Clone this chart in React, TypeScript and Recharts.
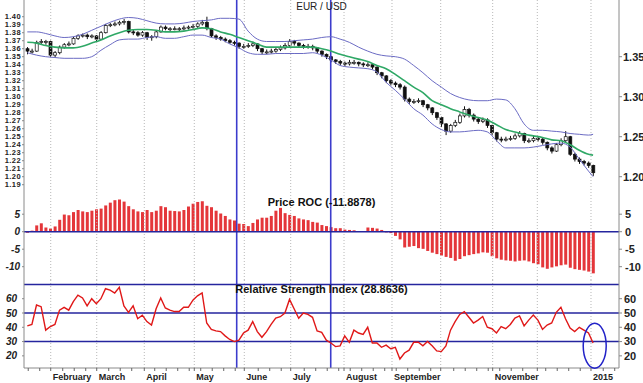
import React from "react";
import { ComposedChart, Bar, Line, XAxis, YAxis, ReferenceLine, ReferenceDot } from "recharts";

// one candle = two trading days, mid-Jan 2014 .. end of Dec 2014
const opens = [
  1.360, 1.357, 1.357, 1.368, 1.369, 1.369, 1.352, 1.355, 1.362, 1.365,
  1.366, 1.373, 1.376, 1.377, 1.375, 1.376, 1.372, 1.380, 1.389, 1.390,
  1.391, 1.393, 1.394, 1.381, 1.380, 1.377, 1.380, 1.374, 1.375, 1.381,
  1.387, 1.385, 1.385, 1.385, 1.385, 1.386, 1.387, 1.388, 1.391, 1.393,
  1.385, 1.376, 1.374, 1.372, 1.370, 1.368, 1.367, 1.363, 1.363, 1.364,
  1.366, 1.360, 1.356, 1.356, 1.357, 1.359, 1.361, 1.364, 1.369, 1.367,
  1.364, 1.363, 1.363, 1.361, 1.357, 1.353, 1.350, 1.346, 1.344, 1.342,
  1.341, 1.343, 1.343, 1.341, 1.340, 1.340, 1.337, 1.330, 1.326, 1.320,
  1.317, 1.315, 1.312, 1.297, 1.294, 1.294, 1.295, 1.290, 1.286, 1.280,
  1.274, 1.266, 1.257, 1.264, 1.268, 1.276, 1.284, 1.277, 1.272, 1.269,
  1.271, 1.264, 1.255, 1.247, 1.246, 1.247, 1.248, 1.251, 1.254, 1.245,
  1.245, 1.248, 1.247, 1.243, 1.236, 1.232, 1.240, 1.245, 1.250, 1.228,
  1.222, 1.219, 1.217, 1.214,
];
const highs = [
  1.362, 1.360, 1.370, 1.372, 1.371, 1.370, 1.357, 1.364, 1.367, 1.369,
  1.375, 1.378, 1.379, 1.379, 1.378, 1.377, 1.382, 1.391, 1.392, 1.394,
  1.395, 1.397, 1.395, 1.384, 1.382, 1.382, 1.381, 1.377, 1.383, 1.389,
  1.389, 1.387, 1.388, 1.387, 1.389, 1.389, 1.391, 1.393, 1.396, 1.400,
  1.386, 1.378, 1.376, 1.374, 1.372, 1.370, 1.368, 1.366, 1.367, 1.369,
  1.367, 1.361, 1.359, 1.360, 1.362, 1.364, 1.367, 1.372, 1.371, 1.368,
  1.366, 1.366, 1.365, 1.362, 1.358, 1.354, 1.351, 1.347, 1.346, 1.344,
  1.346, 1.346, 1.344, 1.343, 1.343, 1.342, 1.338, 1.331, 1.327, 1.322,
  1.319, 1.317, 1.314, 1.299, 1.297, 1.298, 1.296, 1.291, 1.287, 1.281,
  1.275, 1.267, 1.266, 1.271, 1.279, 1.288, 1.286, 1.279, 1.274, 1.274,
  1.273, 1.265, 1.256, 1.250, 1.250, 1.251, 1.254, 1.257, 1.255, 1.248,
  1.251, 1.250, 1.249, 1.244, 1.238, 1.242, 1.248, 1.257, 1.251, 1.230,
  1.224, 1.221, 1.219, 1.215,
];
const lows = [
  1.353, 1.354, 1.356, 1.366, 1.365, 1.350, 1.349, 1.353, 1.360, 1.363,
  1.365, 1.371, 1.374, 1.372, 1.373, 1.369, 1.371, 1.379, 1.387, 1.388,
  1.389, 1.390, 1.379, 1.377, 1.375, 1.375, 1.371, 1.370, 1.373, 1.380,
  1.383, 1.382, 1.383, 1.382, 1.383, 1.384, 1.385, 1.386, 1.389, 1.383,
  1.374, 1.371, 1.370, 1.368, 1.366, 1.364, 1.360, 1.360, 1.361, 1.362,
  1.357, 1.353, 1.353, 1.354, 1.355, 1.357, 1.359, 1.362, 1.364, 1.361,
  1.360, 1.360, 1.358, 1.354, 1.350, 1.347, 1.343, 1.341, 1.339, 1.338,
  1.339, 1.340, 1.338, 1.337, 1.337, 1.334, 1.327, 1.323, 1.317, 1.314,
  1.312, 1.309, 1.294, 1.291, 1.291, 1.292, 1.287, 1.283, 1.277, 1.271,
  1.262, 1.252, 1.255, 1.262, 1.266, 1.274, 1.274, 1.269, 1.266, 1.267,
  1.261, 1.252, 1.244, 1.243, 1.244, 1.245, 1.246, 1.249, 1.242, 1.242,
  1.243, 1.244, 1.240, 1.233, 1.229, 1.231, 1.238, 1.243, 1.226, 1.219,
  1.216, 1.214, 1.211, 1.201,
];
const closes = [
  1.357, 1.357, 1.368, 1.369, 1.369, 1.352, 1.355, 1.362, 1.365, 1.366,
  1.373, 1.376, 1.377, 1.375, 1.376, 1.372, 1.380, 1.389, 1.390, 1.391,
  1.393, 1.394, 1.381, 1.380, 1.377, 1.380, 1.374, 1.375, 1.381, 1.387,
  1.385, 1.385, 1.385, 1.385, 1.386, 1.387, 1.388, 1.391, 1.393, 1.385,
  1.376, 1.374, 1.372, 1.370, 1.368, 1.367, 1.363, 1.363, 1.364, 1.366,
  1.360, 1.356, 1.356, 1.357, 1.359, 1.361, 1.364, 1.369, 1.367, 1.364,
  1.363, 1.363, 1.361, 1.357, 1.353, 1.350, 1.346, 1.344, 1.342, 1.341,
  1.343, 1.343, 1.341, 1.340, 1.340, 1.337, 1.330, 1.326, 1.320, 1.317,
  1.315, 1.312, 1.297, 1.294, 1.294, 1.295, 1.290, 1.286, 1.280, 1.274,
  1.266, 1.257, 1.264, 1.268, 1.276, 1.284, 1.277, 1.272, 1.269, 1.271,
  1.264, 1.255, 1.247, 1.246, 1.247, 1.248, 1.251, 1.254, 1.245, 1.245,
  1.248, 1.247, 1.243, 1.236, 1.232, 1.240, 1.245, 1.250, 1.228, 1.222,
  1.219, 1.217, 1.214, 1.205,
];

// bollinger bands, read every 2nd candle (plus the last one)
const bandUpper = [
  1.381, 1.381, 1.379, 1.376, 1.374, 1.375, 1.378, 1.383, 1.388, 1.393,
  1.397, 1.399, 1.398, 1.395, 1.392, 1.391, 1.391, 1.392, 1.394, 1.395,
  1.396, 1.398, 1.398, 1.397, 1.382, 1.372, 1.369, 1.369, 1.369, 1.370,
  1.371, 1.372, 1.374, 1.375, 1.372, 1.368, 1.362, 1.357, 1.353, 1.351,
  1.350, 1.347, 1.339, 1.330, 1.320, 1.312, 1.304, 1.299, 1.296, 1.295,
  1.295, 1.297, 1.296, 1.285, 1.266, 1.258, 1.258, 1.257, 1.256, 1.254,
  1.253, 1.252, 1.253,
];
const bandMid = [
  1.368, 1.367, 1.364, 1.362, 1.361, 1.361, 1.363, 1.367, 1.371, 1.376,
  1.380, 1.383, 1.384, 1.384, 1.383, 1.381, 1.381, 1.382, 1.384, 1.386,
  1.385, 1.381, 1.378, 1.374, 1.370, 1.366, 1.362, 1.362, 1.362, 1.362,
  1.362, 1.362, 1.360, 1.357, 1.353, 1.350, 1.347, 1.344, 1.339, 1.335,
  1.328, 1.320, 1.312, 1.305, 1.295, 1.290, 1.285, 1.281, 1.277, 1.274,
  1.271, 1.265, 1.259, 1.256, 1.253, 1.251, 1.249, 1.246, 1.245, 1.240,
  1.233, 1.228, 1.227,
];
const bandLower = [
  1.355, 1.352, 1.350, 1.349, 1.348, 1.348, 1.348, 1.350, 1.358, 1.365,
  1.371, 1.372, 1.372, 1.374, 1.375, 1.373, 1.373, 1.375, 1.377, 1.377,
  1.374, 1.372, 1.366, 1.361, 1.355, 1.353, 1.353, 1.354, 1.354, 1.354,
  1.354, 1.355, 1.352, 1.346, 1.339, 1.337, 1.336, 1.335, 1.331, 1.318,
  1.308, 1.297, 1.285, 1.277, 1.266, 1.259, 1.256, 1.256, 1.257, 1.258,
  1.256, 1.245, 1.236, 1.236, 1.236, 1.237, 1.239, 1.241, 1.242, 1.237,
  1.222, 1.207, 1.200,
];

const roc = [
  -0.3, 0.3, 1.8, 2.4, 1.2, 0.9, 1.5, 3.4, 4.9, 4.7,
  5.6, 6.2, 5.8, 5.6, 6.0, 6.4, 6.6, 7.5, 8.3, 9.0,
  9.2, 8.6, 7.3, 6.4, 5.8, 5.6, 6.2, 5.6, 6.0, 7.3,
  7.0, 6.0, 5.9, 5.8, 6.2, 7.2, 8.0, 8.5, 8.7, 7.4,
  7.0, 6.0, 5.2, 4.5, 3.5, 3.2, 2.3, 2.2, 1.6, 2.5,
  3.5, 4.0, 4.0, 4.5, 6.0, 6.8, 5.3, 4.8, 4.5, 3.8,
  3.5, 3.3, 2.8, 2.6, 1.9, 1.6, 1.3, 1.0, 1.0, 0.6,
  0.5, 0.4, 0.2, 0.2, 1.2, 1.1, 0.9, 0.5, -0.2, -0.4,
  -1.2, -2.2, -4.5, -4.3, -4.1, -4.7, -4.9, -5.5, -6.0, -6.4,
  -6.8, -7.2, -7.5, -8.3, -7.8, -7.0, -6.7, -6.4, -6.2, -5.9,
  -6.0, -7.0, -7.6, -8.0, -8.2, -8.3, -8.5, -8.3, -8.2, -8.5,
  -9.0, -9.3, -10.2, -10.6, -10.2, -9.9, -9.6, -9.4, -10.3, -10.7,
  -10.9, -11.1, -11.4, -11.9,
];

const rsi = [
  41, 42, 55.6, 54.4, 38, 40.5, 42, 52, 54, 52,
  58, 62.5, 60.5, 55, 60, 56.5, 60, 67, 66, 64,
  68, 55, 50.5, 55, 46, 48.5, 44, 41.6, 53, 60.5,
  53.5, 52, 51, 51, 54, 54, 59, 62, 64, 43,
  38.5, 37.5, 37, 34, 31.5, 30, 31, 36, 38, 44,
  37, 33, 37, 42, 46.5, 47.4, 50, 59.5, 53, 46.3,
  50, 49, 47, 37.5, 36.5, 31, 29, 26.5, 27, 34,
  29.5, 38, 36, 35, 40, 29, 29, 26, 27.5, 25,
  26, 17.8, 22, 24, 29.5, 29.5, 27, 30, 27, 23.5,
  23, 27, 38, 44, 49, 51, 47, 43, 45, 47.5,
  40, 39, 36, 40.5, 39, 42, 46.5, 48, 41, 45,
  48.5, 45, 38.5, 41.6, 43, 50.5, 54, 46, 39.5, 37,
  40, 38, 36, 29,
];

// month starts, in candle units
const monthTicks = [5.09, 15.09, 25.43, 36.3, 47.17, 57.26, 68.85, 79.28, 89.87, 101.17, 110.87, 122.54];
const monthLabels = ["February", "March", "April", "May", "June", "July", "August", "September", "", "November", "", "2015"];
const markers = [45.52, 65.96];

const priceTicksLeft = [1.19, 1.2, 1.21, 1.22, 1.23, 1.24, 1.25, 1.26, 1.27, 1.28, 1.29, 1.3, 1.31, 1.32, 1.33, 1.34, 1.35, 1.36, 1.37, 1.38, 1.39, 1.4];
const priceTicksRight = [1.2, 1.25, 1.3, 1.35];
const rocTicks = [5, 0, -5, -10];
const rsiTicks = [60, 50, 40, 30, 20];
const rsiLevels = [70, 50, 30];

const bandAt = Array.from({ length: 62 }, (_, j) => j * 2).concat(123);

const rows = closes.map((c, k) => {
  const j = bandAt.indexOf(k);
  return {
    k,
    open: opens[k],
    high: highs[k],
    low: lows[k],
    close: c,
    roc: roc[k],
    rsi: rsi[k],
    upper: j >= 0 ? bandUpper[j] : null,
    mid: j >= 0 ? bandMid[j] : null,
    lower: j >= 0 ? bandLower[j] : null,
  };
});

const weekTicks: number[] = [];
for (let t = 0.2; t < 128; t += 2.5) {
  if (monthTicks.every((m) => Math.abs(m - t) > 0.9)) weekTicks.push(t);
}
const xTicks = [...weekTicks, ...monthTicks].sort((a, b) => a - b);

const FONT = "Arial, 'Liberation Sans', Helvetica, sans-serif";
const W = 643;
const X_DOMAIN: [number, number] = [-0.72, 128.63];
const GRID = "#b8b8b8";
const MARK = "#3c3ccc";
const NAVY = "#25259e";
const AXIS = "#8a8a8a";

const Candle = (props: any) => {
  const { x, y, width, height, payload } = props;
  if (x == null || !payload) return null;
  const top = height < 0 ? y + height : y;
  const h = Math.abs(height);
  const cx = x + width / 2;
  const span = payload.high - payload.low || 0.0001;
  const ppu = h / span;
  const bTop = top + (payload.high - Math.max(payload.open, payload.close)) * ppu;
  const bBot = top + (payload.high - Math.min(payload.open, payload.close)) * ppu;
  const up = payload.close >= payload.open;
  return (
    <g>
      <line x1={cx} x2={cx} y1={top} y2={top + h} stroke="#111" strokeWidth={1} />
      <rect x={cx - 1.5} y={bTop} width={3} height={Math.max(bBot - bTop, 1)} fill={up ? "#fff" : "#111"} stroke="#111" strokeWidth={0.7} />
    </g>
  );
};

const MonthTick = (props: any) => {
  const { x, y, payload } = props;
  const i = monthTicks.indexOf(payload.value);
  if (i < 0 || !monthLabels[i]) return <g />;
  return (
    <text x={x + 2} y={y} dy={8} textAnchor="start" fontSize={9} fontWeight="bold" fill="#222" fontFamily={FONT}>
      {monthLabels[i]}
    </text>
  );
};

const leftTick = (size: number, italic = false) => ({
  fontSize: size,
  fill: "#222",
  fontFamily: FONT,
  fontWeight: "bold" as const,
  fontStyle: italic ? "italic" : "normal",
});
const rightTick = { fontSize: 11, fill: "#222", fontFamily: FONT, fontWeight: "bold" as const };

function gridLines() {
  return [
    ...monthTicks.map((m) => (
      <ReferenceLine key={"m" + m} x={m} yAxisId="l" stroke={GRID} strokeDasharray="1 2" />
    )),
    ...markers.map((m) => <ReferenceLine key={"v" + m} x={m} yAxisId="l" stroke={MARK} strokeWidth={1.6} />),
  ];
}

export default function App() {
  const margin = { top: 0, right: 0, bottom: 0, left: 0 };
  return (
    <div style={{ position: "absolute", left: 0, top: 0, width: W, height: 383, background: "#fff", fontFamily: FONT }}>
      <div style={{ position: "absolute", left: 0, top: 0 }}>
        <ComposedChart width={W} height={196} data={rows} margin={margin}>
          <XAxis type="number" dataKey="k" domain={X_DOMAIN} allowDataOverflow hide />
          <YAxis
            yAxisId="l"
            orientation="left"
            width={24}
            domain={[1.17588, 1.42088]}
            allowDataOverflow
            ticks={priceTicksLeft}
            interval={0}
            tick={{ ...leftTick(7.5), letterSpacing: 0.4 }}
            tickSize={2}
            tickMargin={1}
            axisLine={{ stroke: AXIS }}
            tickLine={{ stroke: AXIS }}
            tickFormatter={(v: number) => v.toFixed(2)}
          />
          <YAxis
            yAxisId="r"
            orientation="right"
            width={24}
            domain={[1.17588, 1.42088]}
            allowDataOverflow
            ticks={priceTicksRight}
            interval={0}
            tick={rightTick}
            tickSize={3}
            tickMargin={1}
            axisLine={{ stroke: AXIS }}
            tickLine={{ stroke: AXIS }}
            tickFormatter={(v: number) => v.toFixed(2)}
          />
          {gridLines()}
          <Line yAxisId="l" dataKey="upper" type="monotone" stroke="#6b6bc4" strokeWidth={1} dot={false} connectNulls isAnimationActive={false} />
          <Line yAxisId="l" dataKey="lower" type="monotone" stroke="#6b6bc4" strokeWidth={1} dot={false} connectNulls isAnimationActive={false} />
          <Line yAxisId="l" dataKey="mid" type="monotone" stroke="#2fa866" strokeWidth={1.6} dot={false} connectNulls isAnimationActive={false} />
          <Bar yAxisId="l" dataKey={(d: any) => [d.low, d.high]} barSize={3} shape={<Candle />} isAnimationActive={false} />
        </ComposedChart>
      </div>

      <div style={{ position: "absolute", left: 0, top: 196 }}>
        <ComposedChart width={W} height={84} data={rows} margin={margin}>
          <XAxis type="number" dataKey="k" domain={X_DOMAIN} allowDataOverflow height={0} tick={false} tickLine={false} axisLine={{ stroke: "#999" }} />
          <YAxis
            yAxisId="l"
            orientation="left"
            width={24}
            domain={[-13.8, 10.2]}
            allowDataOverflow
            ticks={rocTicks}
            interval={0}
            tick={leftTick(10, true)}
            tickSize={2}
            tickMargin={2}
            axisLine={{ stroke: AXIS }}
            tickLine={{ stroke: AXIS }}
          />
          <YAxis
            yAxisId="r"
            orientation="right"
            width={24}
            domain={[-13.8, 10.2]}
            allowDataOverflow
            ticks={rocTicks}
            interval={0}
            tick={rightTick}
            tickSize={3}
            tickMargin={3}
            axisLine={{ stroke: AXIS }}
            tickLine={{ stroke: AXIS }}
          />
          {gridLines()}
          <Bar yAxisId="l" dataKey="roc" barSize={3} fill="#e4363a" isAnimationActive={false} />
          <ReferenceLine y={0} yAxisId="l" stroke={NAVY} strokeWidth={1.4} />
        </ComposedChart>
      </div>

      <div style={{ position: "absolute", left: 0, top: 280 }}>
        <ComposedChart width={W} height={103} data={rows} margin={margin}>
          <XAxis
            type="number"
            dataKey="k"
            domain={X_DOMAIN}
            allowDataOverflow
            height={15}
            ticks={xTicks}
            interval={0}
            tick={<MonthTick />}
            tickSize={3}
            tickMargin={1}
            axisLine={{ stroke: AXIS }}
            tickLine={{ stroke: "#666" }}
          />
          <YAxis
            yAxisId="l"
            orientation="left"
            width={24}
            domain={[11.5, 73.1]}
            allowDataOverflow
            ticks={rsiTicks}
            interval={0}
            tick={leftTick(10, true)}
            tickSize={2}
            tickMargin={5}
            axisLine={{ stroke: AXIS }}
            tickLine={{ stroke: AXIS }}
          />
          <YAxis
            yAxisId="r"
            orientation="right"
            width={24}
            domain={[11.5, 73.1]}
            allowDataOverflow
            ticks={rsiTicks}
            interval={0}
            tick={rightTick}
            tickSize={3}
            tickMargin={2}
            axisLine={{ stroke: AXIS }}
            tickLine={{ stroke: AXIS }}
          />
          {gridLines()}
          {rsiLevels.map((v) => (
            <ReferenceLine key={"r" + v} y={v} yAxisId="l" stroke={NAVY} strokeWidth={1.4} />
          ))}
          <Line yAxisId="l" dataKey="rsi" type="linear" stroke="#e01818" strokeWidth={1.4} dot={false} isAnimationActive={false} />
          <ReferenceDot
            x={123.35}
            y={27.1}
            yAxisId="l"
            r={0}
            ifOverflow="visible"
            shape={(p: any) => <ellipse cx={p.cx} cy={p.cy} rx={11.5} ry={22.5} fill="none" stroke="#2323c8" strokeWidth={1.5} />}
          />
        </ComposedChart>
      </div>

      <div style={{ position: "absolute", left: 0, width: W, textAlign: "center", top: 1, fontSize: 10, lineHeight: "12px", color: "#222" }}>
        EUR / USD
      </div>
      <div style={{ position: "absolute", left: 0, width: W, textAlign: "center", top: 195, fontSize: 11, lineHeight: "14px", fontWeight: "bold", color: "#111" }}>
        Price ROC (-11.8878)
      </div>
      <div style={{ position: "absolute", left: 0, width: W, textAlign: "center", top: 282, fontSize: 11, lineHeight: "14px", fontWeight: "bold", color: "#111" }}>
        Relative Strength Index (28.8636)
      </div>
    </div>
  );
}
